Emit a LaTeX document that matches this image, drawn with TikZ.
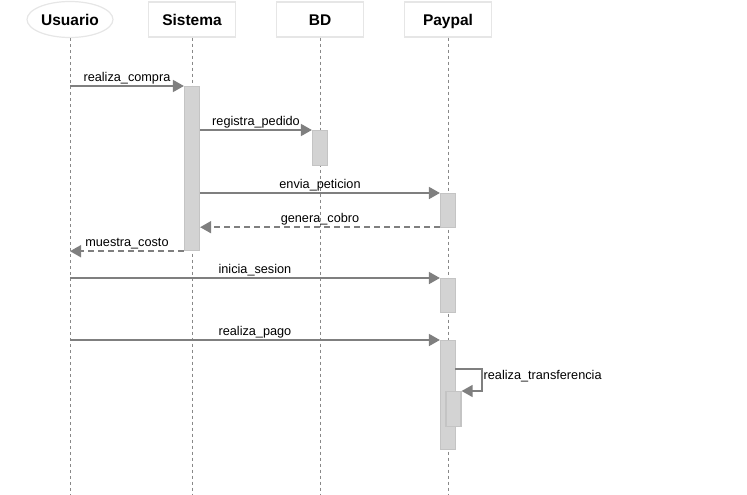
\documentclass[tikz,border=0pt]{standalone}
\usepackage{fontspec}
\setmainfont{Liberation Sans}
\usetikzlibrary{arrows.meta,shapes.geometric}
\definecolor{arr}{HTML}{7F7F7F}
\definecolor{lifec}{HTML}{888888}
\definecolor{actfill}{HTML}{D3D3D3}
\definecolor{actdraw}{HTML}{C4C4C4}
\definecolor{hdr}{HTML}{E6E6E6}
\begin{document}
\begin{tikzpicture}[x=1pt,y=-1pt,
  head/.style={draw=hdr, line width=1.2pt, fill=white, minimum width=87pt, minimum height=35pt, inner sep=0pt, text height=11.5pt, text depth=0pt, font=\bfseries\fontsize{15.5}{18}\selectfont},
  actorhead/.style={head, ellipse, minimum width=86pt, minimum height=36pt},
  life/.style={draw=lifec, dash pattern=on 3pt off 3pt, line width=0.8pt},
  act/.style={draw=actdraw, fill=actfill, line width=1.2pt, minimum width=15pt, inner sep=0pt, anchor=north},
  msg/.style={draw=arr, line width=1.7pt, -{Triangle[length=11pt,width=12pt]}},
  ret/.style={msg, dash pattern=on 6pt off 4pt},
  lbl/.style={font=\fontsize{12.7}{14}\selectfont, inner sep=1.2pt, anchor=south}]
\useasboundingbox (0,0) rectangle (747,495);
% headers
\node[actorhead] (usuario) at (70,19.5) {Usuario};
\node[head] (sistema) at (192,19.5) {Sistema};
\node[head] (bd) at (320,19.5) {BD};
\node[head] (paypal) at (448,19.5) {Paypal};
% lifeline ends
\coordinate (uend) at (70,495);
\coordinate (send) at (192,495);
\coordinate (bend) at (320,495);
\coordinate (pend) at (448,495);
\draw[life] (usuario.south) -- (uend);
\draw[life] (sistema.south) -- (send);
\draw[life] (bd.south) -- (bend);
\draw[life] (paypal.south) -- (pend);
% activations
\node[act, minimum height=164pt] (a1) at (192,86) {};
\node[act, minimum height=35pt] (b1) at (320,130) {};
\node[act, minimum height=34pt] (p1) at (448,193) {};
\node[act, minimum height=34pt] (p2) at (448,278) {};
\node[act, minimum height=109pt] (p3) at (448,340) {};
\node[act, minimum height=35pt] (p4) at (453.5,391) {};
\coordinate (sm) at (455,369);
% messages
\draw[msg] (uend |- a1.north) -- node[lbl]{realiza\_compra} (a1.north west);
\draw[msg] (a1.east |- b1.north) -- node[lbl]{registra\_pedido} (b1.north west);
\draw[msg] (a1.east |- p1.north) -- node[lbl]{envia\_peticion} (p1.north west);
\draw[ret] (p1.south west) ++(0,-1) coordinate (gc) -- node[lbl]{genera\_cobro} (a1.east |- gc);
\draw[ret] (a1.south west) -- node[lbl]{muestra\_costo} (uend |- a1.south);
\draw[msg] (uend |- p2.north) -- node[lbl]{inicia\_sesion} (p2.north west);
\draw[msg] (uend |- p3.north) -- node[lbl]{realiza\_pago} (p3.north west);
\draw[msg, line width=1.4pt] (sm) -- ++(27,0) coordinate (sr) |- (p4.north east);
\node[anchor=west, inner sep=1.5pt, font=\fontsize{12.7}{14}\selectfont] (tlbl) at (482,376) {realiza\_transferencia};
\end{tikzpicture}
\end{document}
